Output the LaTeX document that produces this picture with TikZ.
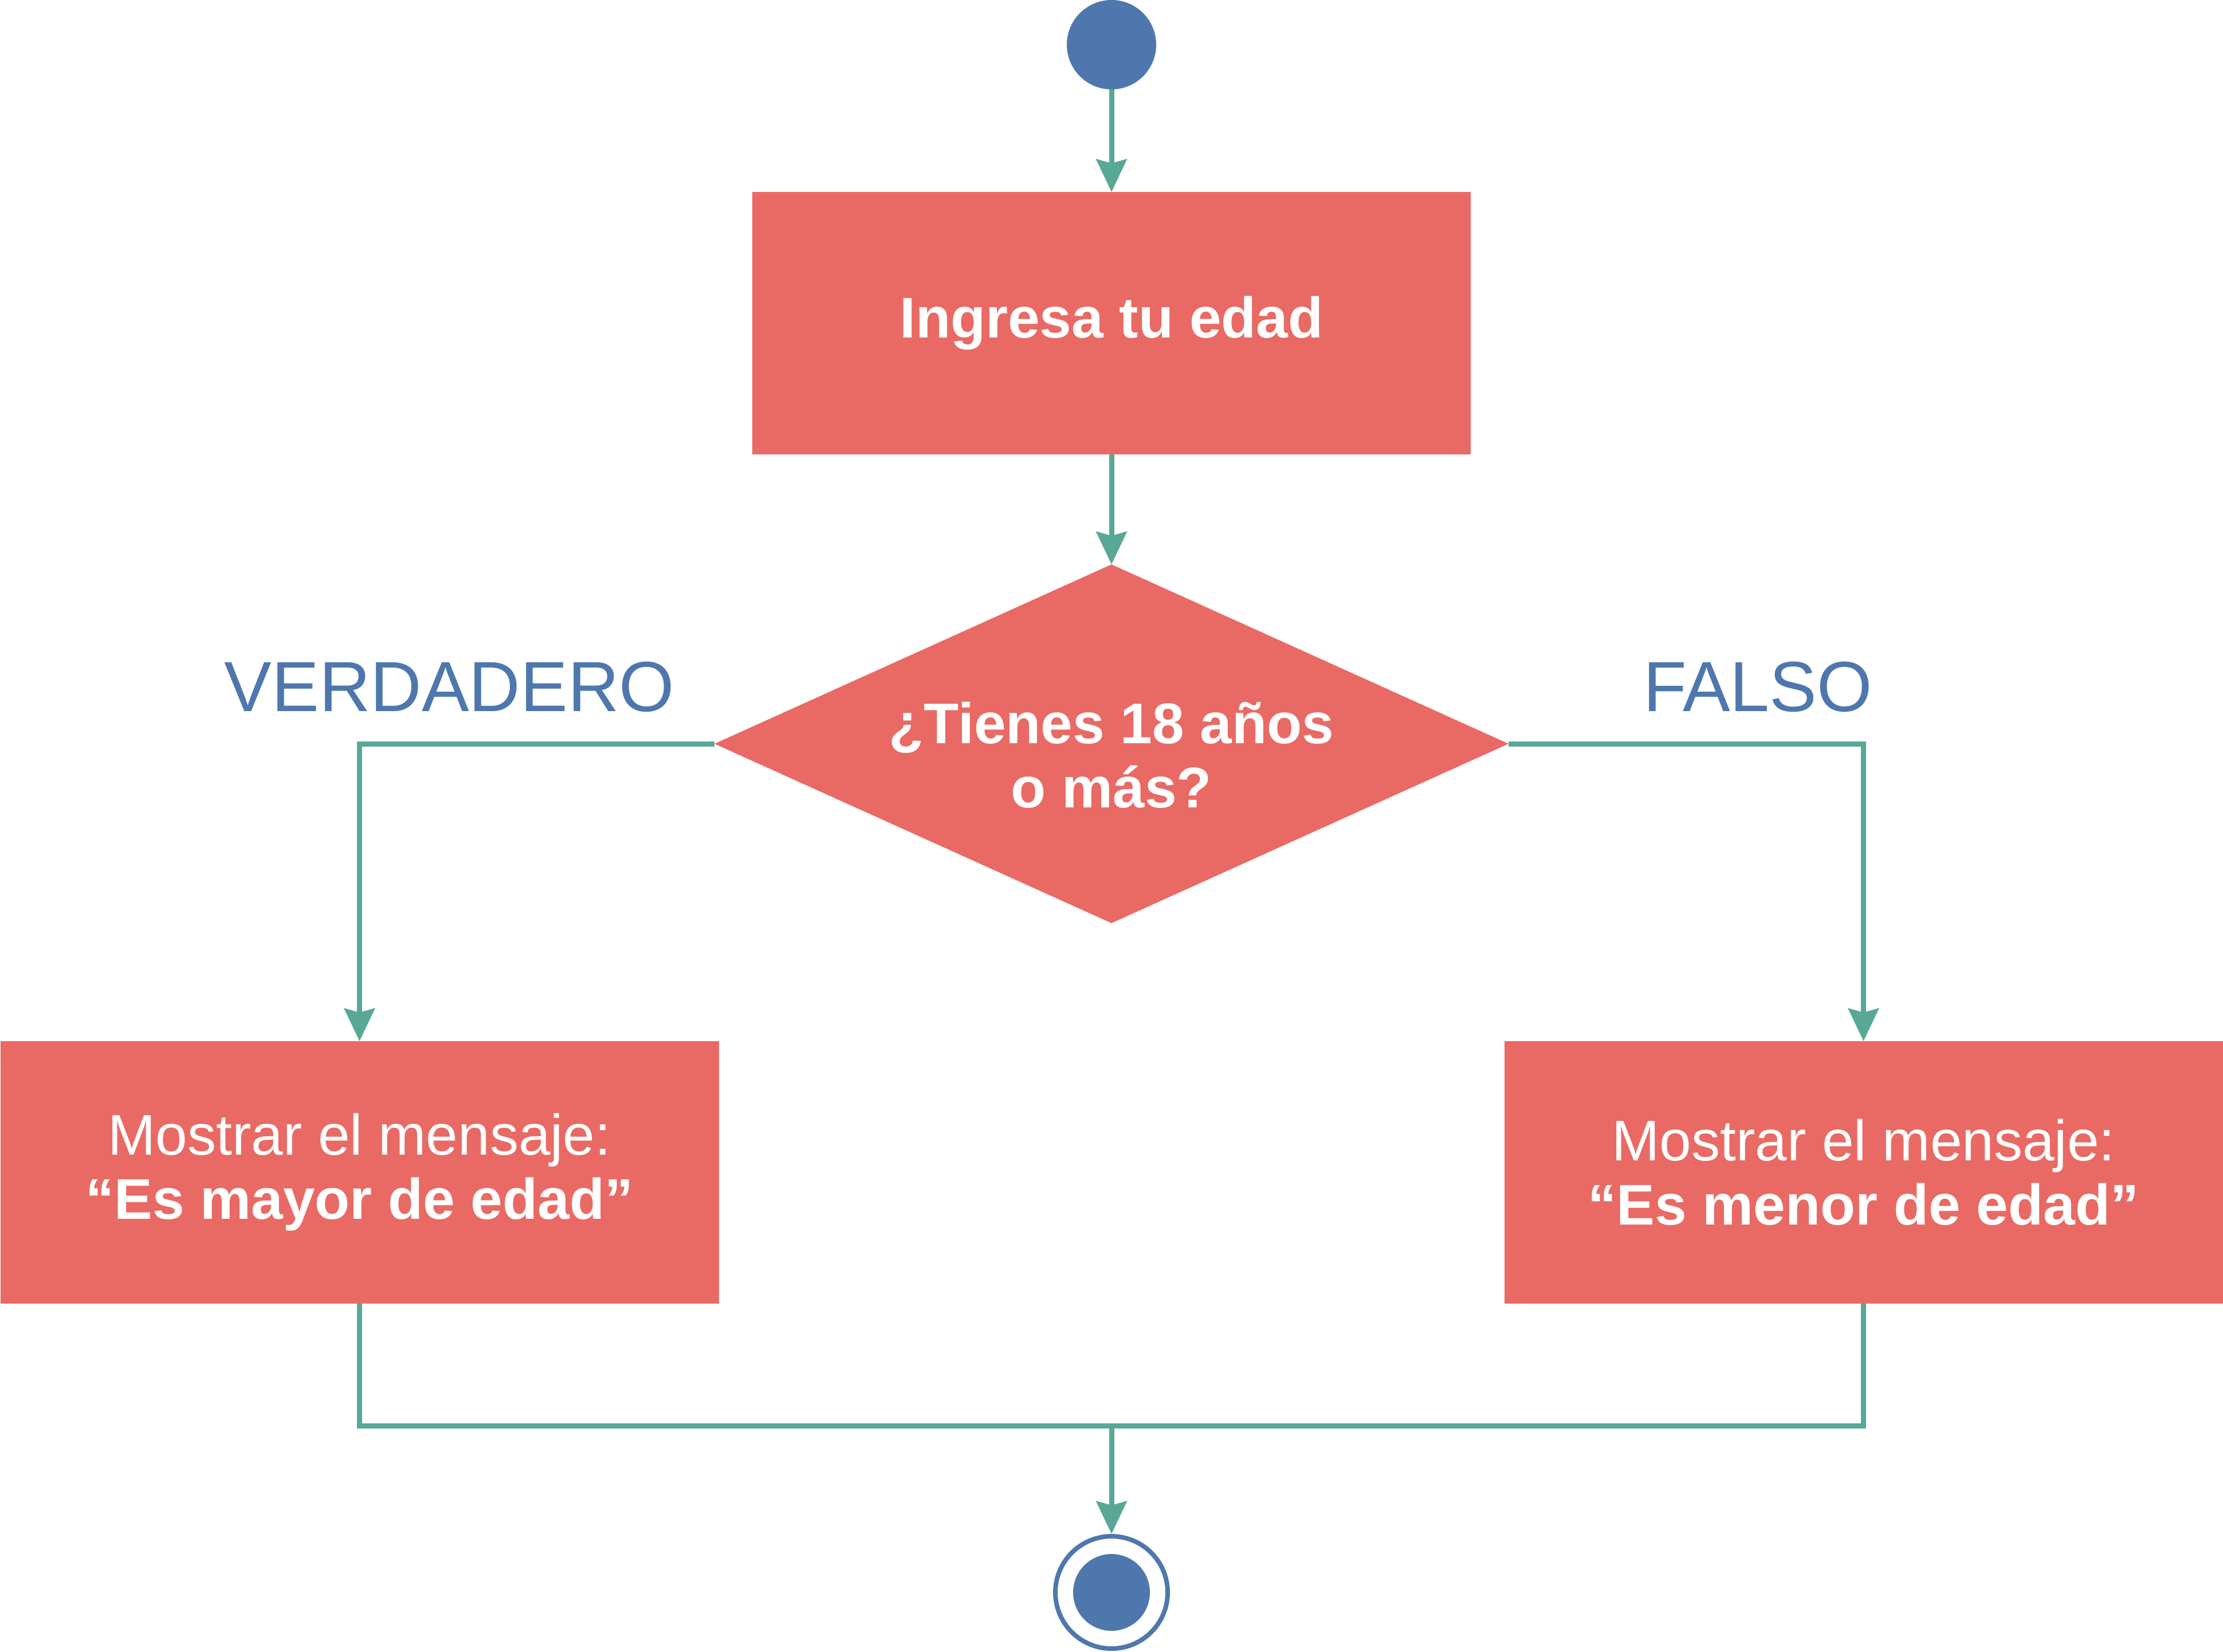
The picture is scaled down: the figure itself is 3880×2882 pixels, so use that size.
\documentclass[tikz,border=0pt]{standalone}
\usepackage{fontspec}
\setmainfont{Liberation Sans}
\usetikzlibrary{arrows.meta,shapes.geometric}
\definecolor{boxred}{HTML}{E96A64}
\definecolor{linegreen}{HTML}{58A896}
\definecolor{nodeblue}{HTML}{4E77AD}
\begin{document}
\begin{tikzpicture}[x=1pt,y=-1pt,
  flow/.style={draw=linegreen, line width=9pt},
  arr/.style={flow, -{Stealth[length=57pt,width=53pt,inset=7pt]}},
  boxnode/.style={rectangle, fill=boxred, minimum width=1254pt, minimum height=458pt,
    inner sep=0pt, outer sep=0pt, text=white, align=center,
    font=\fontsize{100}{112}\selectfont},
  decision/.style={diamond, fill=boxred, minimum width=1386pt, minimum height=626pt,
    aspect=2.21, inner sep=0pt, outer sep=0pt, text=white, align=center,
    font=\fontsize{100}{112}\selectfont\bfseries},
  branchlabel/.style={text=nodeblue, anchor=base, inner sep=0pt,
    font=\fontsize{124}{140}\selectfont},
  startdot/.style={circle, fill=nodeblue, minimum size=156pt, inner sep=0pt},
  endring/.style={circle, draw=nodeblue, line width=8pt, fill=white, minimum size=196pt, inner sep=0pt},
  enddot/.style={circle, fill=nodeblue, minimum size=134pt, inner sep=0pt}
]
\useasboundingbox (0,0) rectangle (3880,2882);

\node[startdot] (start) at (1940,78) {};
\node[boxnode, font=\fontsize{100}{112}\selectfont\bfseries] (input) at (1940,564) {Ingresa tu edad};
\node[decision] (dec) at (1940,1298) {\rule{0pt}{112pt}¿Tienes 18 años\\o más?};
\node[boxnode] (major) at (627.5,2046) {Mostrar el mensaje:\\\textbf{“Es mayor de edad”}};
\node[boxnode] (minor) at (3252.5,2046) {Mostrar el mensaje:\\\textbf{“Es menor de edad”}};
\node[branchlabel] (lt) at (784.5,1241) {VERDADERO};
\node[branchlabel] (lf) at (3068,1241) {FALSO};
\node[endring] (end) at (1940,2779) {};
\node[enddot] (endin) at (1940,2779) {};

\coordinate (join) at (1940,2488);

\draw[arr] (start) -- (input);
\draw[arr] (input) -- (dec.north);
\draw[arr] (dec.west) -| (major.north);
\draw[arr] (dec.east) -| (minor.north);
\draw[flow] (major.south) |- (join);
\draw[flow] (minor.south) |- (join);
\draw[arr] (join) -- (end);
\end{tikzpicture}
\end{document}
